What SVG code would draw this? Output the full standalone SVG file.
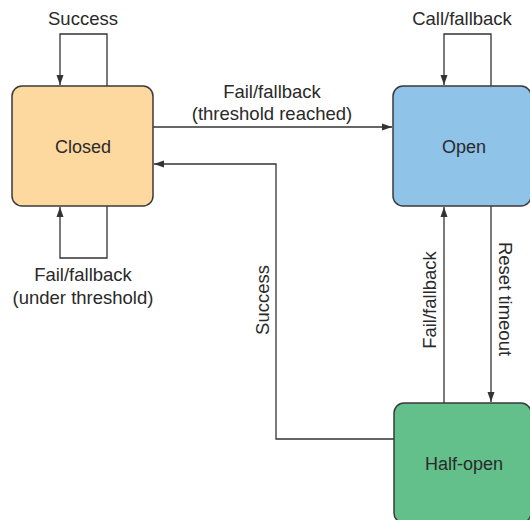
<svg xmlns="http://www.w3.org/2000/svg" width="530" height="520" viewBox="0 0 530 520">
<style>
.box{stroke:#3a3a3a;stroke-width:1.5}
.ln{fill:none;stroke:#333;stroke-width:1.3}
text{font-family:"Liberation Sans",Arial,sans-serif;font-size:18.5px;fill:#2a2a2a;text-anchor:middle}
.nd{font-size:18px}
</style>
<defs>
<marker id="ah" viewBox="0 0 10 10" refX="10" refY="5" markerWidth="10" markerHeight="10" markerUnits="userSpaceOnUse" orient="auto">
<path d="M0,1.5 L10,5 L0,8.5 z" fill="#333"/>
</marker>
</defs>
<g id="connectors">
<path class="ln" d="M107,86 V34 H60 V85" marker-end="url(#ah)"/>
<path class="ln" d="M107,206 V258 H60 V207" marker-end="url(#ah)"/>
<path class="ln" d="M491,86 V34 H444 V85" marker-end="url(#ah)"/>
<path class="ln" d="M153,127 H392" marker-end="url(#ah)"/>
<path class="ln" d="M394,439 H276 V164 H154" marker-end="url(#ah)"/>
<path class="ln" d="M444,403 V207" marker-end="url(#ah)"/>
<path class="ln" d="M491,206 V402" marker-end="url(#ah)"/>
<text x="83" y="25">Success</text>
<text x="83" y="281">Fail/fallback</text>
<text x="83" y="304">(under threshold)</text>
<text x="462" y="25">Call/fallback</text>
<text x="272" y="98">Fail/fallback</text>
<text x="272" y="120">(threshold reached)</text>
<text transform="translate(269,300) rotate(-90)">Success</text>
<text transform="translate(436,300) rotate(-90)">Fail/fallback</text>
<text transform="translate(499,299) rotate(90)">Reset timeout</text>
</g>
<g id="closed">
<rect class="box" x="12" y="86" width="141" height="120" rx="10" fill="#FDD89F"/>
<text class="nd" x="83" y="153">Closed</text>
</g>
<g id="open">
<rect class="box" x="393" y="86" width="138" height="120" rx="10" fill="#8FC3E8"/>
<text class="nd" x="464" y="153">Open</text>
</g>
<g id="half-open">
<rect class="box" x="394" y="403" width="137" height="120" rx="10" fill="#63C08B"/>
<text class="nd" x="464" y="470">Half-open</text>
</g>
</svg>
